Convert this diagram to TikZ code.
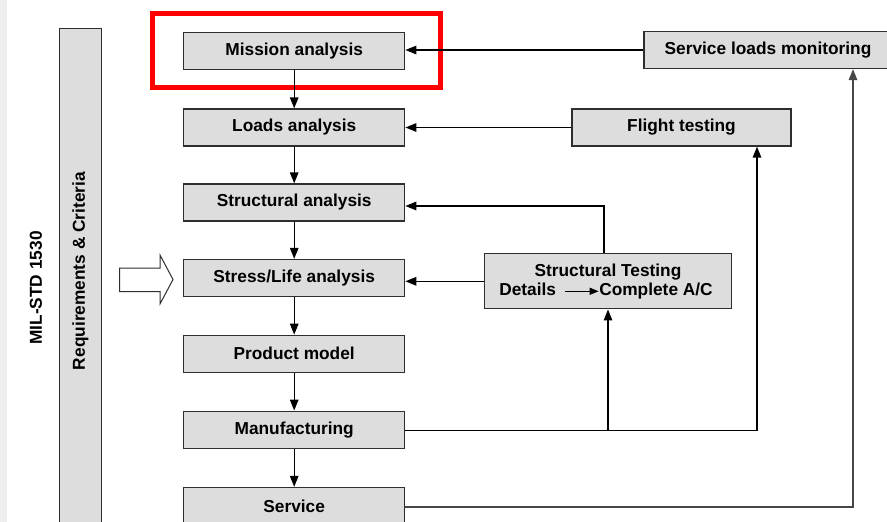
\documentclass[tikz,border=0pt]{standalone}
\usepackage{fontspec}
\setmainfont{Liberation Sans}
\usetikzlibrary{arrows.meta,calc}
\definecolor{boxfill}{HTML}{DDDDDD}
\definecolor{boxline}{HTML}{2E2E2E}
\definecolor{strip}{HTML}{EEEEEE}
\begin{document}
\begin{tikzpicture}[x=1pt,y=-1pt,
  every node/.style={font=\fontsize{17.3}{20}\selectfont\bfseries},
  stage/.style={draw=boxline,line width=1.3pt,fill=boxfill,inner sep=0pt,
    minimum width=221pt,minimum height=37pt},
  sidebox/.style={draw=boxline,line width=1.3pt,fill=boxfill,inner sep=0pt,
    minimum height=37pt},
  tip/.style={-{Triangle[length=11pt,width=8.5pt]}},
  link/.style={line width=1.4pt,tip}]
\useasboundingbox (0,0) rectangle (887,522);
\fill[strip] (0,0) rectangle (7,522);

% standards column
\node[rotate=90] (std) at (36,288) {MIL-STD 1530};
\draw[boxline,line width=1.3pt,fill=boxfill] (59.5,28.5) rectangle (101.5,530);
\node[rotate=90] (req) at (80.5,271) {Requirements \& Criteria};

% hollow block arrow feeding the chain
\draw[boxline,line width=1pt,fill=white]
  (119.5,268) -- (160,268) -- (160,255) -- (173,279.5) -- (160,304)
  -- (160,291.5) -- (119.5,291.5) -- cycle;

% main process chain
\node[stage] (mission) at (294.2,51) {Mission analysis};
\node[stage] (loads)   at (294.2,127.5) {Loads analysis};
\node[stage] (struct)  at (294.2,202.5) {Structural analysis};
\node[stage] (stress)  at (294.2,278) {Stress/Life analysis};
\node[stage] (product) at (294.2,353.8) {Product model};
\node[stage] (manuf)   at (294.2,429.7) {Manufacturing};
\node[stage] (service) at (294.2,506) {Service};

% feedback sources
\node[sidebox,minimum width=248pt] (slm) at (768,50) {Service loads monitoring};
\node[sidebox,minimum width=219pt] (flight) at (681.5,127.5) {Flight testing};
\node[sidebox,minimum width=247.4pt,minimum height=55pt,align=center] (stest) at (608,281.3)
  {Structural Testing\\[-1pt]
   \hspace*{-4pt}Details\hspace{8pt}\tikz[baseline=-4pt]\draw[line width=1.3pt,-{Triangle[length=9pt,width=7pt]}] (0,0) -- (34,0);Complete A/C};

% highlight frame
\draw[red,line width=5pt] (152,13) rectangle (440,87);

% downward flow
\draw[link] (mission) -- (loads);
\draw[link] (loads) -- (struct);
\draw[link] (struct) -- (stress);
\draw[link] (stress) -- (product);
\draw[link] (product) -- (manuf);
\draw[link] (manuf) -- (service);

% feedback loops
\draw[link] (slm.west) -- (slm.west -| mission.east);
\draw[link] (flight.west) -- (flight.west -| loads.east);
\coordinate (stup) at ($(stest.north)+(-4,0)$);
\coordinate (stin) at ($(struct.east)+(0,3.5)$);
\draw[link] (stup) |- (stin);
\draw[link] (stest.west) -- (stest.west -| stress.east);

\coordinate (mout) at ($(manuf.east)+(0,0.5)$);
\coordinate (flightfoot) at ($(flight.south)+(75.5,0)$);
\draw[link] (mout) -| (flightfoot);
\draw[link] (mout -| stest.south) -- (stest.south);

\coordinate (sout) at ($(service.east)+(0,1)$);
\coordinate (slmfoot) at ($(slm.south)+(85,0)$);
\draw[link,draw=black!72] (sout) -| (slmfoot);
\end{tikzpicture}
\end{document}
